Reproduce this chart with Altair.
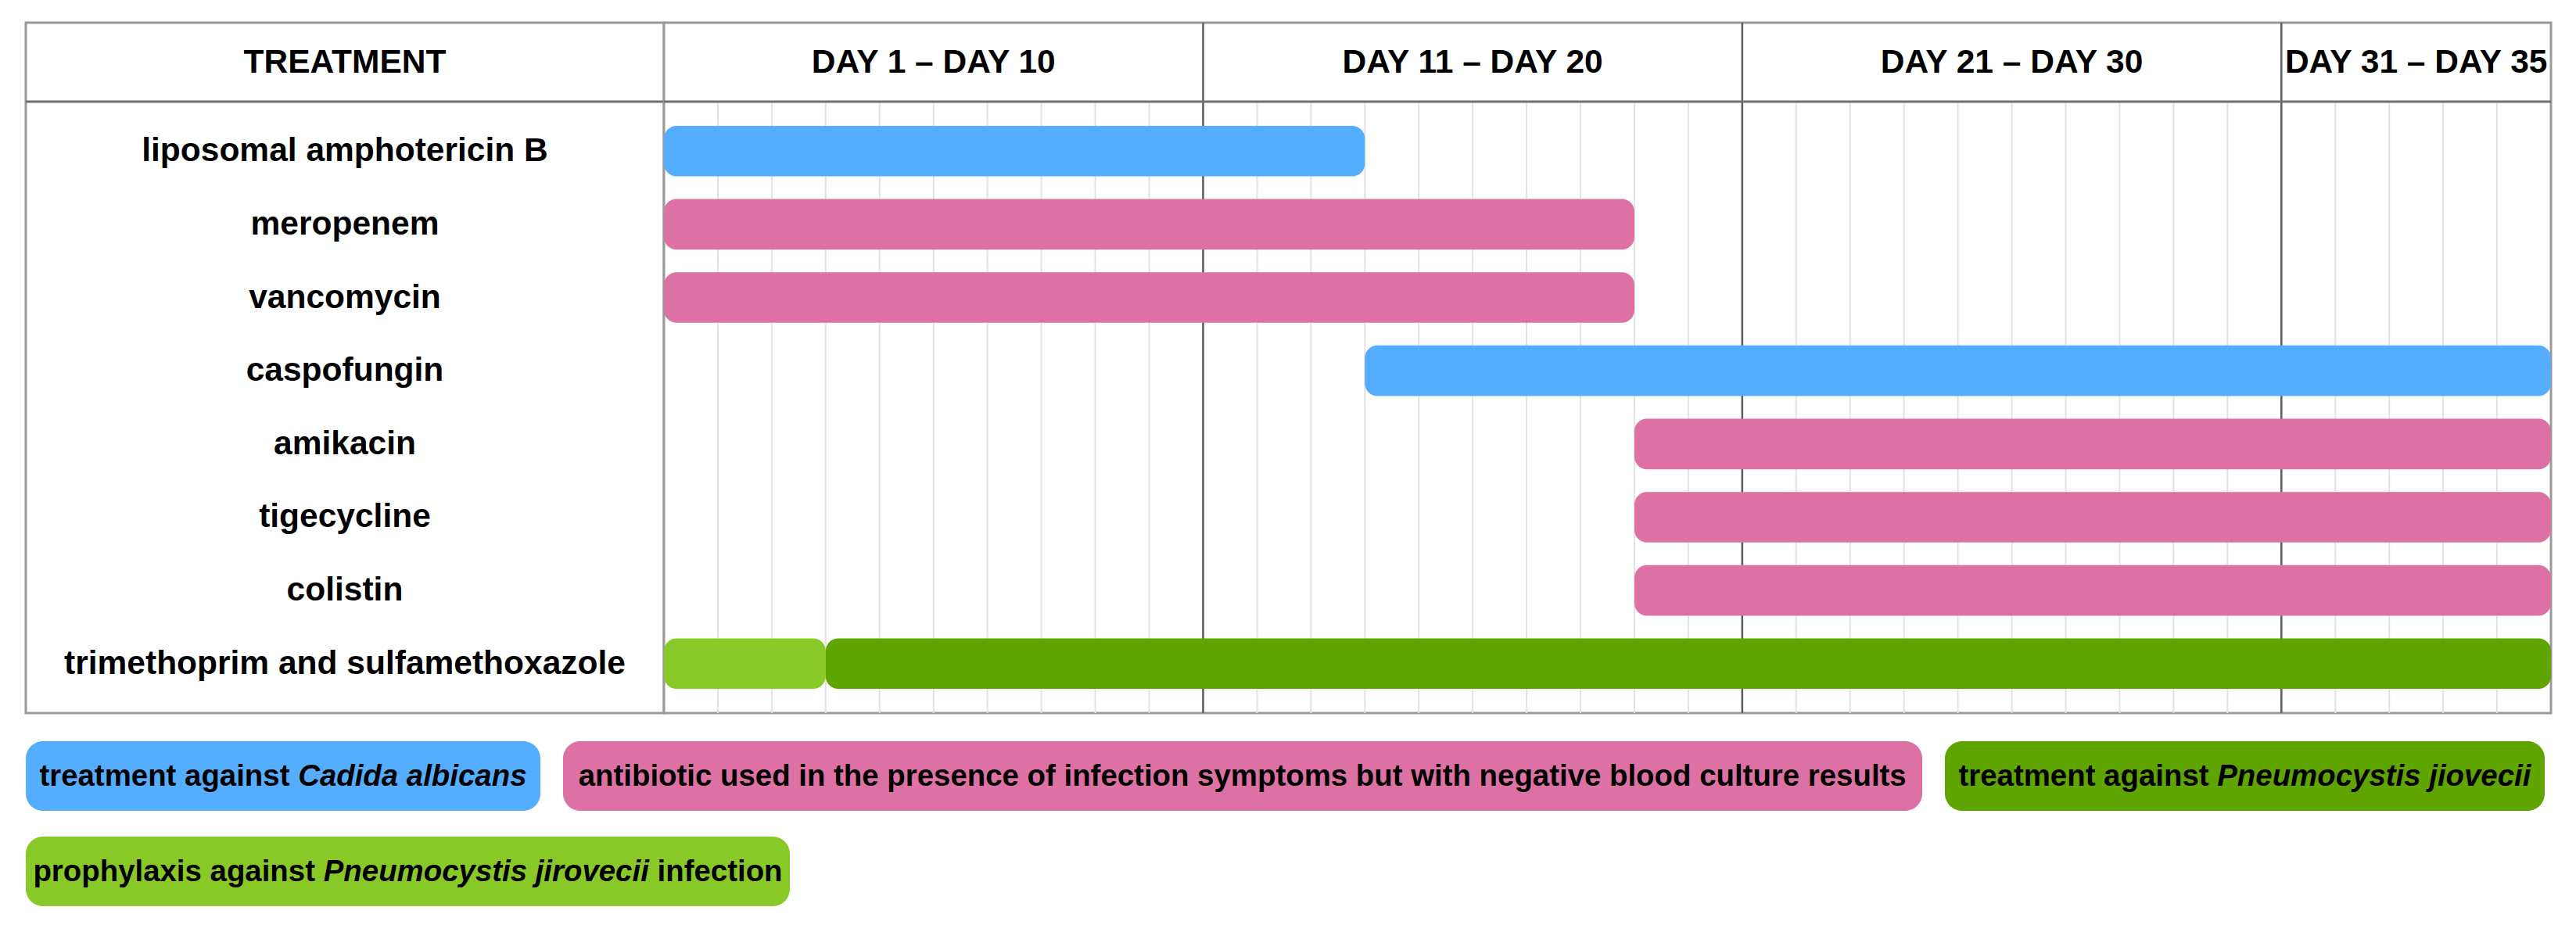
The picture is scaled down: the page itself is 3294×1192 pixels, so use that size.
import altair as alt
import pandas as pd

# ---------------- data ----------------
treatments = [
    "liposomal amphotericin B",
    "meropenem",
    "vancomycin",
    "caspofungin",
    "amikacin",
    "tigecycline",
    "colistin",
    "trimethoprim and sulfamethoxazole",
]
bar_drug = [
    "liposomal amphotericin B",
    "meropenem",
    "vancomycin",
    "caspofungin",
    "amikacin",
    "tigecycline",
    "colistin",
    "trimethoprim and sulfamethoxazole",
    "trimethoprim and sulfamethoxazole",
]
bar_first_day = [1, 1, 1, 14, 19, 19, 19, 1, 4]
bar_last_day = [13, 18, 18, 35, 35, 35, 35, 3, 35]
bar_group = ["candida", "antibiotic", "antibiotic", "candida", "antibiotic",
             "antibiotic", "antibiotic", "prophylaxis", "pneumo"]

group_keys = ["candida", "antibiotic", "pneumo", "prophylaxis"]
group_colors = ["#54ADFF", "#DD71A3", "#60A400", "#88C928"]
legend_segments = [
    [("treatment against ", False), ("Cadida albicans", True)],
    [("antibiotic used in the presence of infection symptoms but with negative blood culture results", False)],
    [("treatment against ", False), ("Pneumocystis jiovecii", True)],
    [("prophylaxis against ", False), ("Pneumocystis jirovecii", True), (" infection", False)],
]

period_first = [1, 11, 21, 31]
period_last = [10, 20, 30, 35]
header_title = "TREATMENT"
n_days = 35

# ---------------- layout / style ----------------
FONT = "Liberation Sans"
LEFT_W, DAYS_W = 816, 2413
HEAD_H, BODY_H = 101, 782
TOTAL_H = HEAD_H + BODY_H
LABEL_FS = 42.5
LEG_FS = 38.4
LEG_W = [658, 1738, 767, 977]
LEG_H = 89

# Arial/Liberation Sans Bold advance widths (per 1000 em)
CW = {' ': 278, 'a': 556, 'b': 611, 'c': 556, 'd': 611, 'e': 556, 'f': 333, 'g': 611,
      'h': 611, 'i': 278, 'j': 278, 'k': 556, 'l': 278, 'm': 889, 'n': 611, 'o': 611,
      'p': 611, 'q': 611, 'r': 389, 's': 556, 't': 333, 'u': 611, 'v': 556, 'w': 778,
      'x': 556, 'y': 556, 'z': 500, 'P': 667, 'C': 722}


def text_w(s, size):
    return sum(CW.get(c, 556) for c in s) * size / 1000.0


x_scale = alt.Scale(domain=[0, n_days], nice=False, zero=False)
y_scale = alt.Scale(type="band", domain=treatments, range=[HEAD_H, TOTAL_H],
                    paddingInner=0.31, paddingOuter=0.33)
table_view = alt.ViewBackground(stroke="#9a9a9a", strokeWidth=3, fill="white")

periods = pd.DataFrame({"first": period_first, "last": period_last})
bars = pd.DataFrame({"drug": bar_drug, "first": bar_first_day,
                     "last": bar_last_day, "group": bar_group})
grid_days = pd.DataFrame({"d": list(range(1, n_days))})

txt = dict(font=FONT, fontSize=LABEL_FS, fontWeight="bold", color="black",
           align="center", baseline="middle")

header_rule = alt.Chart(pd.DataFrame({"k": [0]})).mark_rule(
    color="#6f6f6f", strokeWidth=3).encode(y=alt.value(HEAD_H))

# ---------------- left column (TREATMENT + drug names) ----------------
left_head = alt.Chart(pd.DataFrame({"t": [header_title]})).mark_text(**txt).encode(
    text="t:N", x=alt.value(LEFT_W / 2), y=alt.value(HEAD_H / 2))
left_labels = alt.Chart(pd.DataFrame({"drug": treatments})).mark_text(**txt).encode(
    y=alt.Y("drug:N", scale=y_scale, axis=None),
    x=alt.value(LEFT_W / 2),
    text="drug:N",
)
left_col = alt.layer(left_head, left_labels, header_rule).properties(
    width=LEFT_W, height=TOTAL_H, view=table_view)

# ---------------- right column (day headers + gantt) ----------------
grid = alt.Chart(grid_days).mark_rule(color="#e2e2e2", strokeWidth=2).encode(
    x=alt.X("d:Q", scale=x_scale, axis=None),
    y=alt.value(HEAD_H), y2=alt.value(TOTAL_H))
pbase = alt.Chart(periods).transform_calculate(
    x0="datum.first - 1",
    mid="(datum.first - 1 + datum.last) / 2",
    label="'DAY ' + datum.first + ' – DAY ' + datum.last",
)
decades = pbase.transform_filter("datum.first > 1").mark_rule(
    color="#5c5c5c", strokeWidth=2.5
).encode(x=alt.X("x0:Q", scale=x_scale, axis=None))
day_head = pbase.mark_text(**txt).encode(
    x=alt.X("mid:Q", scale=x_scale, axis=None),
    y=alt.value(HEAD_H / 2),
    text="label:N",
)
bar_layer = alt.Chart(bars).transform_calculate(x0="datum.first - 1").mark_bar(
    cornerRadius=16
).encode(
    x=alt.X("x0:Q", scale=x_scale, axis=None),
    x2="last:Q",
    y=alt.Y("drug:N", scale=y_scale, axis=None),
    color=alt.Color("group:N", scale=alt.Scale(domain=group_keys, range=group_colors),
                    legend=None),
)
right_col = alt.layer(grid, decades, bar_layer, day_head, header_rule).properties(
    width=DAYS_W, height=TOTAL_H, view=table_view)

table = alt.hconcat(left_col, right_col, spacing=0, bounds="flush")


# ---------------- legend boxes ----------------
def legend_box(i):
    w = LEG_W[i]
    segs = legend_segments[i]
    total = sum(text_w(s, LEG_FS) for s, _ in segs)
    x = (w - total) / 2.0
    rows = []
    for s, it in segs:
        lead = len(s) - len(s.lstrip())
        rows.append({"seg": s.strip(), "italic": it, "xp": x + text_w(s[:lead], LEG_FS)})
        x += text_w(s, LEG_FS)
    df = pd.DataFrame(rows)
    sx = alt.Scale(domain=[0, w], nice=False, zero=False)
    layers = []
    for it, style in [(False, "normal"), (True, "italic")]:
        sub = df[df["italic"] == it]
        if len(sub) == 0:
            continue
        layers.append(
            alt.Chart(sub).mark_text(
                font=FONT, fontSize=LEG_FS, fontWeight="bold", fontStyle=style,
                color="black", align="left", baseline="middle"
            ).encode(
                x=alt.X("xp:Q", scale=sx, axis=None),
                y=alt.value(LEG_H / 2),
                text="seg:N",
            )
        )
    return alt.layer(*layers).properties(
        width=w, height=LEG_H,
        view=alt.ViewBackground(fill=group_colors[i], stroke="transparent", cornerRadius=22),
    )


legend = alt.vconcat(
    alt.hconcat(legend_box(0), legend_box(1), legend_box(2), spacing=29, bounds="flush"),
    legend_box(3),
    spacing=33,
)

chart = alt.vconcat(
    table, legend, spacing=33,
    padding={"left": 22, "top": 18, "right": 10, "bottom": 10},
).configure_view(strokeWidth=0)

chart.save("out.html", embed_options={"renderer": "svg", "actions": False})
